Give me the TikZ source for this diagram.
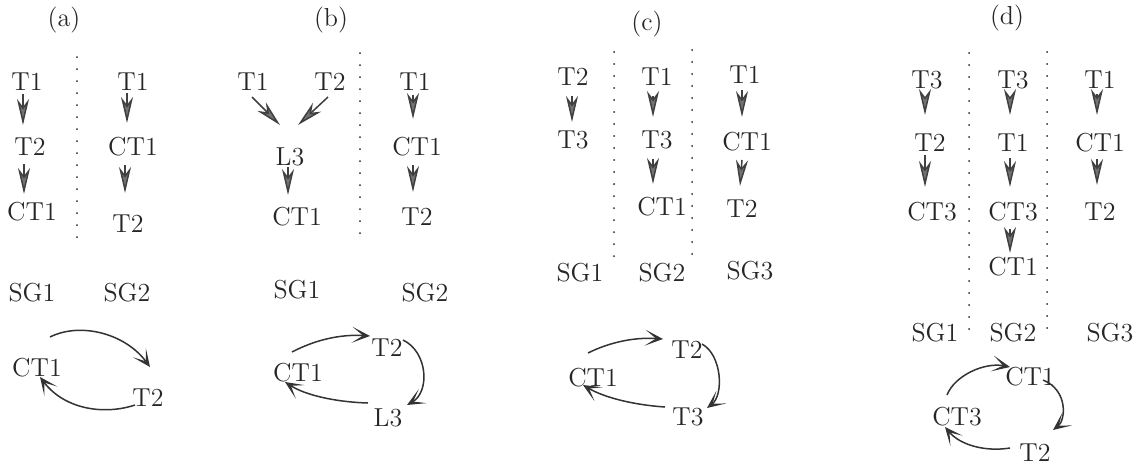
\documentclass[tikz,border=0pt]{standalone}
\usetikzlibrary{arrows.meta,calc}
\begin{document}
\begin{tikzpicture}[x=0.5pt,y=-0.5pt,
  every node/.style={inner sep=1pt,text=black!85,font=\fontsize{13}{15}\selectfont},
  arr/.style={draw=black!75,line width=0.75pt,-{Stealth[length=13pt,width=6pt,inset=4pt,fill=black!55]}},
  cyc/.style={draw=black!80,line width=0.75pt,-{Stealth[length=9pt,width=8pt,inset=5.5pt,fill=black!55]}},
  dots/.style={draw=black!85,line width=1pt,line cap=round,dash pattern=on 0pt off 6pt}]
\useasboundingbox (0,0) rectangle (1136,467);
% ---------------- (a)
\node (alab) at (64,20) {(a)};
\node (a11) at (27,82) {T1};
\node (a12) at (30,147) {T2};
\node (a13) at (32,212) {CT1};
\node (a21) at (133,82) {T1};
\node (a22) at (133,147) {CT1};
\node (a23) at (128,224) {T2};
\node (asg1) at (32,293) {SG1};
\node (asg2) at (127,293) {SG2};
\draw[dots] (77,57) -- (77,247);
\draw[arr] ($(a11)+(-4,12)$) -- ($(a12)+(-7,-22)$);
\draw[arr] ($(a12)+(-6,17)$) -- ($(a13)+(-8,-18)$);
\draw[arr] ($(a21)+(-6,11)$) -- ($(a22)+(-6,-24)$);
\draw[arr] ($(a22)+(-8,18)$) -- ($(a23)+(-3,-31)$);
\node (ac) at (37,368) {CT1};
\node (at) at (148,398) {T2};
\draw[cyc] ($(ac)+(13,-31)$) .. controls (80,322) and (125,333) .. ($(at)+(2,-31)$);
\draw[cyc] ($(at)+(-13,7)$) .. controls (105,415) and (65,410) .. ($(ac)+(3,9)$);
% ---------------- (b)
\node (blab) at (331,20) {(b)};
\node (b11) at (253,82) {T1};
\node (b12) at (330,82) {T2};
\node (b13) at (290,157) {L3};
\node (b14) at (297,217) {CT1};
\node (b21) at (415,82) {T1};
\node (b22) at (417,147) {CT1};
\node (b23) at (417,217) {T2};
\node (bsg1) at (297,290) {SG1};
\node (bsg2) at (425,293) {SG2};
\draw[dots] (360,53) -- (360,243);
\draw[arr] ($(b11)+(-1,15)$) -- ($(b13)+(-10,-32)$);
\draw[arr] ($(b12)+(-2,15)$) -- ($(b13)+(8,-32)$);
\draw[arr] ($(b13)+(-2,10)$) -- ($(b14)+(-9,-22)$);
\draw[arr] ($(b21)+(-2,13)$) -- ($(b22)+(-4,-28)$);
\draw[arr] ($(b22)+(-4,18)$) -- ($(b23)+(-4,-25)$);
\node (bc) at (298,373) {CT1};
\node (bt) at (387,348) {T2};
\node (bl) at (388,418) {L3};
\draw[cyc] ($(bc)+(-6,-21)$) .. controls (315,340) and (340,334) .. ($(bt)+(-17,-12)$);
\draw[cyc] ($(bt)+(16,-8)$) .. controls (428,352) and (430,392) .. ($(bl)+(19,-13)$);
\draw[cyc] ($(bl)+(-20,-15)$) .. controls (335,402) and (305,395) .. ($(bc)+(-13,9)$);
% ---------------- (c)
\node (clab) at (647,24) {(c)};
\node (c11) at (573,77) {T2};
\node (c12) at (573,140) {T3};
\node (c21) at (657,77) {T1};
\node (c22) at (657,140) {T3};
\node (c23) at (662,207) {CT1};
\node (c31) at (745,75) {T1};
\node (c32) at (747,142) {CT1};
\node (c33) at (742,209) {T2};
\node (csg1) at (580,273) {SG1};
\node (csg2) at (662,273) {SG2};
\node (csg3) at (750,271) {SG3};
\draw[dots] (614,52) -- (614,267);
\draw[dots] (692,50) -- (692,257);
\draw[arr] ($(c11)+(-1,19)$) -- ($(c12)+(-1,-18)$);
\draw[arr] ($(c21)+(-4,19)$) -- ($(c22)+(-4,-23)$);
\draw[arr] ($(c22)+(-4,19)$) -- ($(c23)+(-9,-23)$);
\draw[arr] ($(c31)+(-3,15)$) -- ($(c32)+(-5,-25)$);
\draw[arr] ($(c32)+(-5,18)$) -- ($(c33)+(-2,-23)$);
\node (cc) at (593,378) {CT1};
\node (ct) at (687,350) {T2};
\node (cl) at (688,417) {T3};
\draw[cyc] ($(cc)+(-5,-25)$) .. controls (610,342) and (635,337) .. ($(ct)+(-24,-11)$);
\draw[cyc] ($(ct)+(15,-6)$) .. controls (722,355) and (724,395) .. ($(cl)+(19,-9)$);
\draw[cyc] ($(cl)+(-23,-10)$) .. controls (635,405) and (605,398) .. ($(cc)+(-10,7)$);
% ---------------- (d)
\node (dlab) at (1007,18) {(d)};
\node (d11) at (927,80) {T3};
\node (d12) at (930,143) {T2};
\node (d13) at (932,212) {CT3};
\node (d21) at (1013,80) {T3};
\node (d22) at (1013,143) {T1};
\node (d23) at (1013,212) {CT3};
\node (d24) at (1013,267) {CT1};
\node (d31) at (1100,80) {T1};
\node (d32) at (1100,143) {CT1};
\node (d33) at (1100,212) {T2};
\node (dsg1) at (935,333) {SG1};
\node (dsg2) at (1013,333) {SG2};
\node (dsg3) at (1110,333) {SG3};
\draw[dots] (969,53) -- (969,335);
\draw[dots] (1047,52) -- (1047,333);
\draw[arr] ($(d11)+(-2,17)$) -- ($(d12)+(-5,-28)$);
\draw[arr] ($(d12)+(-5,12)$) -- ($(d13)+(-7,-25)$);
\draw[arr] ($(d21)+(-3,17)$) -- ($(d22)+(-3,-28)$);
\draw[arr] ($(d22)+(-3,15)$) -- ($(d23)+(-3,-25)$);
\draw[arr] ($(d23)+(-3,17)$) -- ($(d24)+(-3,-14)$);
\draw[arr] ($(d31)+(-3,14)$) -- ($(d32)+(-3,-28)$);
\draw[arr] ($(d32)+(-3,16)$) -- ($(d33)+(-3,-27)$);
\node (dc1) at (1030,377) {CT1};
\node (dc3) at (957,417) {CT3};
\node (dt) at (1035,453) {T2};
\draw[cyc] ($(dc3)+(-10,-22)$) .. controls (955,375) and (985,362) .. ($(dc1)+(-20,-10)$);
\draw[cyc] ($(dc1)+(13,3)$) .. controls (1068,390) and (1066,420) .. ($(dt)+(18,-23)$);
\draw[cyc] ($(dt)+(-25,-5)$) .. controls (985,452) and (960,445) .. ($(dc3)+(-12,10)$);
\end{tikzpicture}
\end{document}
